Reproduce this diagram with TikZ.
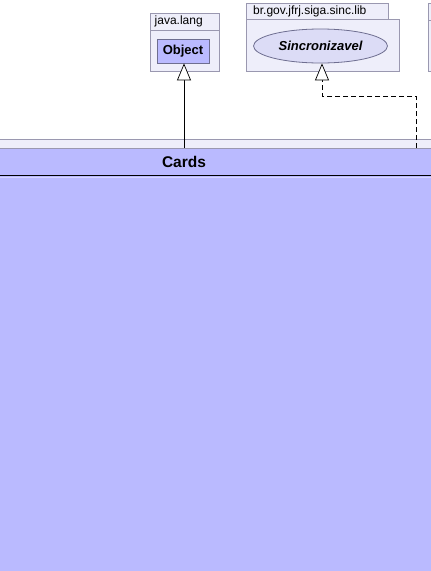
\documentclass[tikz,border=0pt]{standalone}
\usepackage{fontspec}
\setmainfont{Liberation Sans}
\usetikzlibrary{arrows.meta,shapes.geometric}
\definecolor{pkgfill}{HTML}{EEEEFA}
\definecolor{pkgline}{HTML}{9A98B0}
\definecolor{clsfill}{HTML}{BABAFF}
\definecolor{clsline}{HTML}{6E6E90}
\definecolor{ifill}{HTML}{DCDCF6}
\tikzset{
  pkgbox/.style={draw=pkgline,fill=pkgfill,line width=0.8pt},
  pkglabel/.style={font=\fontsize{12}{14}\selectfont,anchor=west,inner sep=0pt},
  clsbox/.style={draw=clsline,fill=clsfill,line width=0.8pt},
  gen/.style={-{Triangle[open,length=17pt,width=14pt,fill=white]},line width=0.7pt},
  realize/.style={gen,dash pattern=on 5pt off 3pt}
}
\begin{document}
\begin{tikzpicture}[x=1pt,y=-1pt]
\useasboundingbox (0,0) rectangle (431,571);
\clip (0,0) rectangle (431,571);
% java.lang package
\draw[pkgbox] (150,13) rectangle (219,30);
\draw[pkgbox] (150,30) rectangle (219,71);
\node[pkglabel] (pjava) at (154.5,21.5) {java.lang};
\node[clsbox,minimum width=52pt,minimum height=24pt,inner sep=0pt,font=\bfseries\fontsize{13}{15}\selectfont] (obj) at (183,51) {Object};
% br.gov package
\draw[pkgbox] (246,3) rectangle (388,19);
\draw[pkgbox] (246,19) rectangle (399,71);
\node[pkglabel] (pbr) at (253,11.5) {br.gov.jfrj.siga.sinc.lib};
\node[ellipse,draw=clsline,fill=ifill,line width=0.8pt,minimum width=134pt,minimum height=34pt,inner sep=0pt,font=\bfseries\itshape\fontsize{13}{15}\selectfont] (sinc) at (320.5,46) {Sincronizavel};
% right package (cut)
\draw[pkgbox] (428,3) rectangle (440,20);
\draw[pkgbox] (428,20) rectangle (440,71);
% Cards package strip and class
\draw[pkgbox] (-5,139) rectangle (436,148);
\node[clsbox,draw=pkgline,minimum width=446pt,minimum height=27pt,inner sep=0pt,anchor=north west] (cardshead) at (-5,148) {};
\node[font=\bfseries\fontsize{15.5}{17}\selectfont,inner sep=0pt] (cards) at (184,161.5) {Cards};
\fill[clsfill] (-5,175) rectangle (436,580);
\draw[black,line width=0.9pt] (-5,175) -- (436,175);
\draw[white!40!clsfill,line width=0.6pt] (-5,177) -- (436,177);
% connectors
\coordinate (g1) at (184,148);
\draw[gen] (g1) -- (obj.south -| g1);
\coordinate (r1) at (416,148);
\coordinate (r2) at (416,96);
\coordinate (r3) at (322,96);
\draw[realize] (r1) -- (r2) -- (r3) -- (sinc.south -| r3);
\end{tikzpicture}
\end{document}
